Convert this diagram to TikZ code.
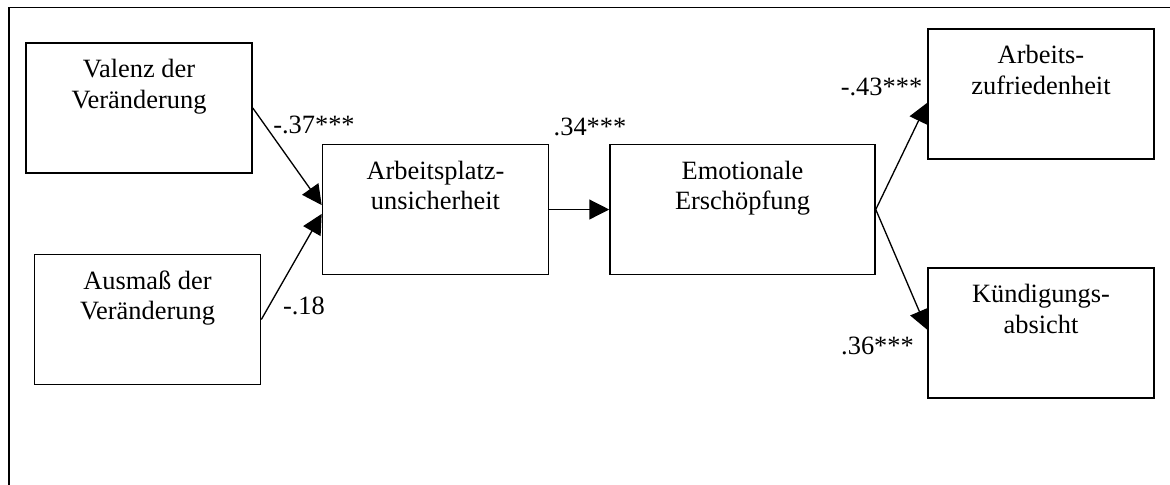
\documentclass[tikz,border=0pt]{standalone}
\usepackage{fontspec}
\setmainfont{Liberation Serif}
\usetikzlibrary{arrows.meta}

\begin{document}
\begin{tikzpicture}[x=0.4545pt,y=-0.4545pt,semithick,
  box/.style={draw,line width=0.75pt,minimum width=102.7pt,minimum height=59pt,inner sep=0pt},
  txt/.style={anchor=north,align=center,inner sep=0pt,font=\fontsize{12}{13.8}\selectfont},
  coef/.style={anchor=base,inner sep=0pt,font=\fontsize{12}{13.8}\selectfont},
  pfeil/.style={-{Triangle[length=9pt,width=9pt]}}]
\useasboundingbox (0,0) rectangle (1170,484);
\draw[line width=0.75pt] (1175,7.5) -- (9,7.5) -- (9,490);
\node[box] (valenz) at (139,108) {};
\node[box] (ausmass) at (147.5,319.5) {};
\node[box] (arbeit) at (435.5,209.5) {};
\node[box,minimum width=120.4pt] (emo) at (742.5,209.5) {};
\node[box] (zufr) at (1041,94) {};
\node[box] (kuend) at (1041,333) {};
\node[txt] (valenzT) at ([yshift=-7.5pt]valenz.north) {Valenz der\\Veränderung};
\node[txt] (ausmassT) at ([yshift=-7.5pt]ausmass.north) {Ausmaß der\\Veränderung};
\node[txt] (arbeitT) at ([yshift=-7.5pt]arbeit.north) {Arbeitsplatz-\\unsicherheit};
\node[txt] (emoT) at ([yshift=-7.5pt]emo.north) {Emotionale\\Erschöpfung};
\node[txt] (zufrT) at ([yshift=-7.5pt]zufr.north) {Arbeits-\\zufriedenheit};
\node[txt] (kuendT) at ([yshift=-7.5pt]kuend.north) {Kündigungs-\\absicht};
\draw[pfeil] (valenz.east) -- ([yshift=2pt]arbeit.west);
\draw[pfeil] (ausmass.east) -- ([yshift=-2pt]arbeit.west);
\draw[pfeil] (arbeit.east) -- (emo.west);
\draw[pfeil] (emo.east) -- ([yshift=-4pt]zufr.west);
\draw[pfeil] (emo.east) -- ([yshift=1.5pt]kuend.west);
\node[coef] (c1) at (314,133) {-.37***};
\node[coef] (c2) at (304,314) {-.18};
\node[coef] (c3) at (590,135) {.34***};
\node[coef] (c4) at (881.5,95) {-.43***};
\node[coef] (c5) at (877.5,354) {.36***};
\end{tikzpicture}
\end{document}
